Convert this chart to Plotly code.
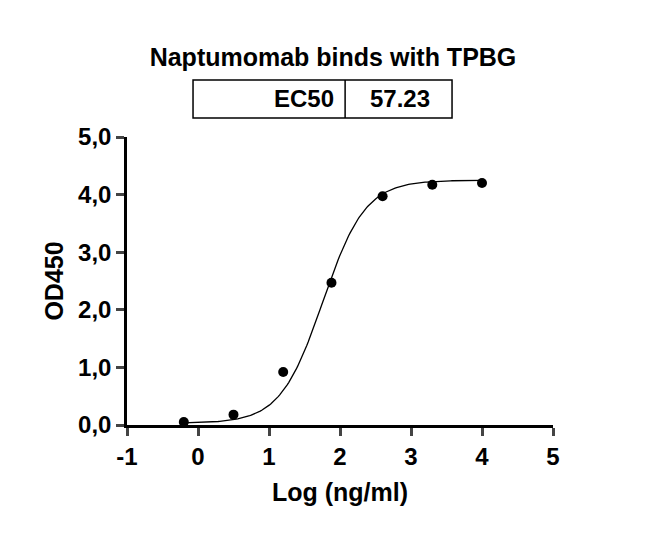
import numpy as np
import plotly.graph_objects as go

log_conc = [-0.2, 0.5, 1.2, 1.88, 2.6, 3.3, 4.0]
od450 = [0.05, 0.18, 0.92, 2.47, 3.97, 4.17, 4.2]
ec50 = 57.23

# 4PL fit parameters
bottom, top, hill = 0.03, 4.25, 1.45
logec = np.log10(ec50)
xf = np.linspace(-0.2, 4.0, 200)
yf = bottom + (top - bottom) / (1 + 10 ** ((logec - xf) * hill))

font = dict(family="Liberation Sans, Arial", color="black")
fig = go.Figure()
fig.add_trace(go.Scatter(x=xf, y=yf, mode="lines", line=dict(color="black", width=1.3)))
fig.add_trace(go.Scatter(x=log_conc, y=od450, mode="markers",
                         marker=dict(color="black", size=10)))

ax = dict(showline=True, linecolor="black", linewidth=2.5, ticks="outside",
          ticklen=8, tickwidth=2.5, showgrid=False, zeroline=False,
          tickfont=dict(size=24, **font))
fig.update_xaxes(range=[-1, 5], title=dict(text="<b>Log (ng/ml)</b>", font=dict(size=25, **font)),
                 tickvals=[-1, 0, 1, 2, 3, 4, 5],
                 ticktext=["<b>-1</b>", "<b>0</b>", "<b>1</b>", "<b>2</b>", "<b>3</b>", "<b>4</b>", "<b>5</b>"], **ax)
fig.update_yaxes(range=[0, 5], tickvals=[0, 1, 2, 3, 4, 5],
                 ticktext=["<b>0,0</b>", "<b>1,0</b>", "<b>2,0</b>", "<b>3,0</b>", "<b>4,0</b>", "<b>5,0</b>"],
                 title=dict(text="<b>OD450</b>", font=dict(size=25, **font), standoff=8), **ax)

fig.add_shape(type="rect", xref="paper", yref="paper", x0=0.155, x1=0.763, y0=1.066, y1=1.198,
              line=dict(color="black", width=1.5))
fig.add_shape(type="line", xref="paper", yref="paper", x0=0.512, x1=0.512, y0=1.066, y1=1.198,
              line=dict(color="black", width=1.5))
fig.add_annotation(xref="paper", yref="paper", x=0.49, y=1.132, text="<b>EC50</b>", showarrow=False,
                   xanchor="right", yanchor="middle", font=dict(size=24, **font))
fig.add_annotation(xref="paper", yref="paper", x=0.64, y=1.132, text=f"<b>{ec50}</b>", showarrow=False,
                   xanchor="center", yanchor="middle", font=dict(size=24, **font))

fig.update_layout(width=650, height=538, showlegend=False, plot_bgcolor="white", paper_bgcolor="white",
                  margin=dict(l=119, r=105, t=129, b=121),
                  title=dict(text="<b>Naptumomab binds with TPBG</b>", x=0.5, xanchor="center",
                             yref="container", y=0.925, font=dict(size=25, **font)))
fig.write_html("out.html")
